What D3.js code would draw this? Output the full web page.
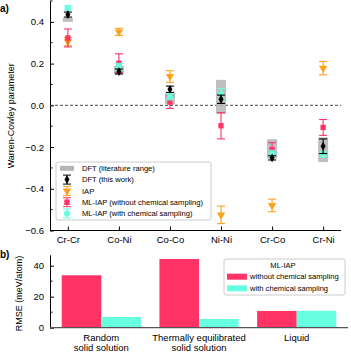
<!DOCTYPE html>
<html>
<head>
<meta charset="utf-8">
<script src="https://cdn.jsdelivr.net/npm/d3@7"></script>
<style>
body { margin: 0; background: #fff; }
svg { font-family: "Liberation Sans", Arial, sans-serif; }
</style>
</head>
<body>
<svg id="chart"></svg>
<script>
// panel a data
var pairs = ["Cr-Cr", "Co-Ni", "Co-Co", "Ni-Ni", "Cr-Co", "Cr-Ni"];
var dftLo = [0.40, 0.15, 0.005, -0.042, -0.255, -0.272];
var dftHi = [0.42, 0.19, 0.06, 0.122, -0.162, -0.154];
var dftVal = [0.435, 0.162, 0.077, 0.029, -0.252, -0.196];
var dftErr = [0.012, 0.012, 0.015, 0.02, 0.01, 0.035];
var iapVal = [0.305, 0.352, 0.138, -0.525, -0.48, 0.178];
var iapErr = [0.02, 0.017, 0.028, 0.042, 0.03, 0.032];
var mlNoVal = [0.323, 0.202, 0.015, -0.098, -0.212, -0.106];
var mlNoErr = [0.043, 0.045, 0.03, 0.063, 0.033, 0.038];
var mlVal = [0.467, 0.186, 0.041, 0.054, -0.231, -0.235];
var mlErr = [0.01, 0.015, 0.015, 0.027, 0.015, 0.012];

// panel b data
var systems = [["Random", "solid solution"], ["Thermally equilibrated", "solid solution"], ["Liquid"]];
var rmseNo = [33.8, 44.3, 10.8];
var rmseWith = [6.9, 5.6, 10.9];

var red = "#ff3366", cyan = "#66ffe0", orange = "#ff9f1c", grey = "#b4b4b4";

var svg = d3.select("#chart").attr("width", 351).attr("height", 352);

// ---------- panel a ----------
var x = d3.scalePoint().domain(pairs).range([50, 341]).padding(0.35);
var y = d3.scaleLinear().domain([-0.6, 0.5]).range([230.5, 1]);

var yAxis = d3.axisLeft(y).tickValues([-0.6, -0.4, -0.2, 0, 0.2, 0.4])
  .tickSizeInner(-4).tickSizeOuter(0).tickPadding(6)
  .tickFormat(function(d) { return d === 0 ? "0.0" : d3.format(".1f")(d).replace("-", "\u2212"); });
var ga = svg.append("g").attr("transform", "translate(50,0)").call(yAxis);
ga.selectAll(".tick text").style("font-size", "9.5px");
ga.selectAll("g.minor").data([-0.5, -0.3, -0.1, 0.1, 0.3, 0.5]).enter()
  .append("line").attr("x1", 0).attr("x2", 2.5)
  .attr("y1", function(d) { return y(d); }).attr("y2", function(d) { return y(d); })
  .attr("stroke", "#000");

var xAxis = d3.axisBottom(x).tickSizeInner(-4).tickSizeOuter(0).tickPadding(6);
var gx = svg.append("g").attr("transform", "translate(0," + y(-0.6) + ")").call(xAxis);
gx.select(".domain").attr("d", "M50,0H341");
gx.selectAll(".tick text").style("font-size", "9.5px");

svg.append("line").attr("x1", 50).attr("x2", 341)
  .attr("y1", y(0)).attr("y2", y(0))
  .attr("stroke", "#333").attr("stroke-dasharray", "3,2").attr("stroke-width", 0.9);

svg.append("text").attr("transform", "translate(14," + y(-0.05) + ") rotate(-90)")
  .attr("text-anchor", "middle").style("font-size", "9px").text("Warren-Cowley parameter");
svg.append("text").attr("x", 0).attr("y", 12).style("font-size", "10px")
  .style("font-weight", "bold").text("a)");

// DFT literature range boxes
svg.selectAll("rect.range").data(pairs).enter().append("rect")
  .attr("x", function(d) { return x(d) - 5; })
  .attr("width", 10)
  .attr("y", function(d, i) { return y(dftHi[i]); })
  .attr("height", function(d, i) { return y(dftLo[i]) - y(dftHi[i]); })
  .attr("fill", grey).attr("opacity", 0.85);

function errorBars(vals, errs, color, cls) {
  var g = svg.append("g");
  pairs.forEach(function(p, i) {
    var cx = x(p), top = y(vals[i] + errs[i]), bot = y(vals[i] - errs[i]);
    g.append("line").attr("x1", cx).attr("x2", cx).attr("y1", top).attr("y2", bot)
      .attr("stroke", color).attr("stroke-width", 1.1);
    [top, bot].forEach(function(yy) {
      g.append("line").attr("x1", cx - 4).attr("x2", cx + 4).attr("y1", yy).attr("y2", yy)
        .attr("stroke", color).attr("stroke-width", 1.1);
    });
  });
  return g;
}

function markers(vals, type, size, color) {
  svg.append("g").selectAll("path").data(pairs).enter().append("path")
    .attr("d", d3.symbol().type(type).size(size))
    .attr("transform", function(d, i) {
      var r = type === d3.symbolTriangle ? " rotate(180)" : "";
      return "translate(" + x(d) + "," + y(vals[i]) + ")" + r;
    })
    .attr("fill", color);
}

errorBars(iapVal, iapErr, orange);
markers(iapVal, d3.symbolTriangle, 30, orange);
errorBars(mlNoVal, mlNoErr, red);
markers(mlNoVal, d3.symbolSquare, 28, red);
errorBars(mlVal, mlErr, cyan);
markers(mlVal, d3.symbolCircle, 30, cyan);
errorBars(dftVal, dftErr, "#000");
markers(dftVal, d3.symbolDiamond, 22, "#000");

// legend a
var la = svg.append("g");
la.append("rect").attr("x", 56).attr("y", 162).attr("width", 155).attr("height", 58)
  .attr("fill", "#fff").attr("fill-opacity", 0.85).attr("stroke", "#ccc").attr("rx", 2);
var legA = ["DFT (literature range)", "DFT (this work)", "IAP",
  "ML-IAP (without chemical sampling)", "ML-IAP (with chemical sampling)"];
legA.forEach(function(t, i) {
  var yy = 168.3 + i * 11.3;
  var cx = 67;
  if (i === 0) {
    la.append("rect").attr("x", cx - 7).attr("y", yy - 2.5).attr("width", 14).attr("height", 5).attr("fill", grey);
  } else {
    var col = ["#000", orange, red, cyan][i - 1];
    var typ = [d3.symbolDiamond, d3.symbolTriangle, d3.symbolSquare, d3.symbolCircle][i - 1];
    la.append("line").attr("x1", cx).attr("x2", cx).attr("y1", yy - 4.5).attr("y2", yy + 4.5).attr("stroke", col);
    la.append("line").attr("x1", cx - 4).attr("x2", cx + 4).attr("y1", yy - 4.5).attr("y2", yy - 4.5).attr("stroke", col);
    la.append("line").attr("x1", cx - 4).attr("x2", cx + 4).attr("y1", yy + 4.5).attr("y2", yy + 4.5).attr("stroke", col);
    la.append("path").attr("d", d3.symbol().type(typ).size(i === 1 ? 22 : 30)())
      .attr("transform", "translate(" + cx + "," + yy + ")" + (i === 2 ? " rotate(180)" : ""))
      .attr("fill", col);
  }
  la.append("text").attr("x", 82).attr("y", yy + 2.7).style("font-size", "7.6px").text(t);
});

// ---------- panel b ----------
var xb = d3.scaleBand().domain(d3.range(systems.length)).range([50, 348])
  .paddingInner(0.19).paddingOuter(0.12);
var yb = d3.scaleLinear().domain([0, 47]).range([327.7, 254.8]);
var xs = d3.scaleBand().domain([0, 1]).range([0, xb.bandwidth()]);

var gyb = svg.append("g").attr("transform", "translate(50,0)")
  .call(d3.axisLeft(yb).tickValues([0, 20, 40]).tickSizeInner(-4).tickSizeOuter(0).tickPadding(6));
gyb.selectAll(".tick text").style("font-size", "9.5px");
gyb.selectAll("line.minor").data([10, 30]).enter().append("line")
  .attr("x1", 0).attr("x2", 2.5)
  .attr("y1", function(d) { return yb(d); }).attr("y2", function(d) { return yb(d); })
  .attr("stroke", "#000");

svg.append("g").selectAll("rect").data(rmseNo).enter().append("rect")
  .attr("x", function(d, i) { return xb(i) + xs(0); })
  .attr("width", xs.bandwidth())
  .attr("y", function(d) { return yb(d); })
  .attr("height", function(d) { return yb(0) - yb(d); })
  .attr("fill", red);
svg.append("g").selectAll("rect").data(rmseWith).enter().append("rect")
  .attr("x", function(d, i) { return xb(i) + xs(1); })
  .attr("width", xs.bandwidth())
  .attr("y", function(d) { return yb(d); })
  .attr("height", function(d) { return yb(0) - yb(d); })
  .attr("fill", cyan);

svg.append("line").attr("x1", 50).attr("x2", 348).attr("y1", yb(0)).attr("y2", yb(0))
  .attr("stroke", "#555").attr("stroke-width", 1.2);

systems.forEach(function(lines, i) {
  var t = svg.append("text").attr("x", xb(i) + xb.bandwidth() / 2).attr("y", 340.5)
    .attr("text-anchor", "middle").style("font-size", "9.5px");
  lines.forEach(function(l, j) {
    t.append("tspan").attr("x", xb(i) + xb.bandwidth() / 2).attr("dy", j === 0 ? 0 : 10.5).text(l);
  });
});

svg.append("text").attr("transform", "translate(22," + yb(22) + ") rotate(-90)")
  .attr("text-anchor", "middle").style("font-size", "9px").text("RMSE (meV/atom)");
svg.append("text").attr("x", 0).attr("y", 258).style("font-size", "10px")
  .style("font-weight", "bold").text("b)");

// legend b
var lb = svg.append("g");
lb.append("rect").attr("x", 224).attr("y", 259).attr("width", 121).attr("height", 36)
  .attr("fill", "#fff").attr("stroke", "#ccc").attr("rx", 2);
lb.append("text").attr("x", 283).attr("y", 268).attr("text-anchor", "middle")
  .style("font-size", "7.6px").text("ML-IAP");
[["without chemical sampling", red], ["with chemical sampling", cyan]].forEach(function(e, i) {
  var yy = 276.7 + i * 11.6;
  lb.append("rect").attr("x", 227).attr("y", yy - 3).attr("width", 20).attr("height", 6).attr("fill", e[1]);
  lb.append("text").attr("x", 250).attr("y", yy + 2.7).style("font-size", "7.6px").text(e[0]);
});
</script>
</body>
</html>
